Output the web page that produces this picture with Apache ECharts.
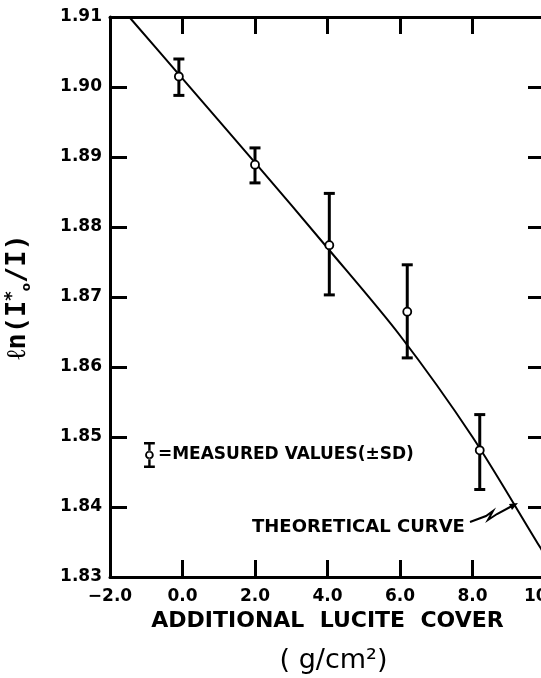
<!DOCTYPE html>
<html lang="en">
<head>
    <meta charset="UTF-8">
    <title>Lucite cover attenuation</title>
    <script src="https://cdn.jsdelivr.net/npm/echarts/dist/echarts.min.js"></script>
    <style>
        html, body {
            margin: 0;
            padding: 0;
            background: #fff;
            overflow: hidden;
        }
        #chart {
            width: 541px;
            height: 678px;
        }
    </style>
</head>
<body>
    <div id="chart"></div>

    <script>
        // measured points (additional lucite cover in g/cm2, ln(I*o/I))
        const coverValues = [-0.1, 2.0, 4.05, 6.2, 8.2];
        const measuredLn = [1.9015, 1.8889, 1.8774, 1.8679, 1.8481];
        const sdLow = [1.8988, 1.8863, 1.8703, 1.8613, 1.8425];
        const sdHigh = [1.9040, 1.8913, 1.8848, 1.8746, 1.8532];

        // theoretical curve
        const curveCover = [-1.47, 0, 2, 4, 6, 8, 9.8, 10];
        const curveLn = [1.9100, 1.9012, 1.8892, 1.8770, 1.8645, 1.8500, 1.8348, 1.8331];

        const xTicks = [-2, 0, 2, 4, 6, 8, 10];
        const yTicks = [1.83, 1.84, 1.85, 1.86, 1.87, 1.88, 1.89, 1.90, 1.91];

        const chart = echarts.init(document.getElementById('chart'));

        const tickFont = { fontFamily: 'DejaVu Sans', fontWeight: 'bold', fontSize: 17, color: '#000' };
        const axisLine = { show: true, onZero: false, lineStyle: { color: '#000', width: 3 } };
        const axisTick = { show: true, inside: true, length: 17, lineStyle: { color: '#000', width: 3 } };

        function xAxisDef(pos, withLabels) {
            return {
                type: 'value',
                position: pos,
                min: xTicks[0],
                max: xTicks[xTicks.length - 1],
                interval: 2,
                axisLine: axisLine,
                axisTick: axisTick,
                splitLine: { show: false },
                axisLabel: withLabels ? Object.assign({
                    margin: 11,
                    formatter: v => (v < 0 ? '\u2212' + Math.abs(v).toFixed(1) : v.toFixed(1))
                }, tickFont) : { show: false }
            };
        }

        function yAxisDef(pos, withLabels) {
            return {
                type: 'value',
                position: pos,
                min: yTicks[0],
                max: yTicks[yTicks.length - 1],
                interval: 0.01,
                axisLine: axisLine,
                axisTick: axisTick,
                splitLine: { show: false },
                axisLabel: withLabels ? Object.assign({
                    margin: 8,
                    formatter: v => v.toFixed(2)
                }, tickFont) : { show: false }
            };
        }

        const xBottom = xAxisDef('bottom', true);
        xBottom.name = '{a|ADDITIONAL  LUCITE  COVER}\n{b|( g/cm\u00b2)}';
        xBottom.nameLocation = 'middle';
        xBottom.nameGap = 26;
        xBottom.nameTextStyle = {
            rich: {
                a: { fontFamily: 'DejaVu Sans', fontWeight: 'bold', fontSize: 22, lineHeight: 30, color: '#000' },
                b: { fontFamily: 'DejaVu Sans', fontSize: 27, lineHeight: 50, color: '#000', padding: [0, 0, 0, 12] }
            }
        };

        const yLeft = yAxisDef('left', true);
        yLeft.name = '{t|\u2113n(I}{s|*}{o|o}{t|/I)}';
        yLeft.nameLocation = 'middle';
        yLeft.nameRotate = 90;
        yLeft.nameGap = 77;
        yLeft.nameTextStyle = {
            rich: {
                t: { fontFamily: 'DejaVu Sans Mono', fontWeight: 'bold', fontSize: 27, color: '#000', lineHeight: 30 },
                s: { fontFamily: 'DejaVu Sans', fontWeight: 'bold', fontSize: 18, color: '#000', verticalAlign: 'top' },
                o: { fontFamily: 'DejaVu Sans', fontWeight: 'bold', fontSize: 12, color: '#000', verticalAlign: 'bottom' }
            }
        };

        const errorData = coverValues.map((x, i) => [x, sdLow[i], sdHigh[i]]);
        const pointData = coverValues.map((x, i) => [x, measuredLn[i]]);
        const curveData = curveCover.map((x, i) => [x, curveLn[i]]);

        // I-beam with open circle, used as the legend key
        const errIcon = 'path://M0 0H10V2.4H0Z M3.9 2H6.1V8.6H3.9Z ' +
            'M9 12A4 4 0 1 0 1 12A4 4 0 1 0 9 12Z M7.3 12A2.3 2.3 0 1 1 2.7 12A2.3 2.3 0 1 1 7.3 12Z ' +
            'M3.9 15.4H6.1V22H3.9Z M0 21.6H10V24H0Z';

        const option = {
            backgroundColor: '#fff',
            animation: false,
            // plot frame runs a little past the right edge of the page, as in the scan
            grid: { left: 110, top: 17, width: 435, height: 560, containLabel: false, outerBoundsMode: 'none' },
            xAxis: [xBottom, xAxisDef('top', false)],
            yAxis: [yLeft, yAxisDef('right', false)],
            legend: {
                left: 139,
                top: 437,
                itemWidth: 11,
                itemHeight: 26,
                data: [{ name: 'measured', icon: errIcon, itemStyle: { color: '#000', borderWidth: 0 } }],
                formatter: () => '=MEASURED VALUES(\u00b1SD)',
                textStyle: { fontFamily: 'DejaVu Sans', fontWeight: 'bold', fontSize: 17, color: '#000', padding: [0, 0, 0, -2] },
                selectedMode: false
            },
            series: [
                {
                    name: 'theoretical',
                    type: 'line',
                    data: curveData,
                    smooth: 0.3,
                    showSymbol: false,
                    lineStyle: { color: '#000', width: 2 },
                    z: 2
                },
                {
                    name: 'sd',
                    type: 'custom',
                    data: errorData,
                    renderItem: function (params, api) {
                        const x = api.value(0);
                        const top = api.coord([x, api.value(2)]);
                        const bot = api.coord([x, api.value(1)]);
                        const cap = 5.5;
                        const st = { stroke: '#000', lineWidth: 3 };
                        return {
                            type: 'group',
                            children: [
                                { type: 'line', shape: { x1: top[0], y1: top[1], x2: bot[0], y2: bot[1] }, style: st },
                                { type: 'line', shape: { x1: top[0] - cap, y1: top[1], x2: top[0] + cap, y2: top[1] }, style: st },
                                { type: 'line', shape: { x1: bot[0] - cap, y1: bot[1], x2: bot[0] + cap, y2: bot[1] }, style: st }
                            ]
                        };
                    },
                    z: 3
                },
                {
                    name: 'measured',
                    type: 'scatter',
                    data: pointData,
                    symbol: 'circle',
                    symbolSize: 8,
                    itemStyle: { color: '#fff', borderColor: '#000', borderWidth: 1.8, opacity: 1 },
                    z: 4
                }
            ],
            graphic: [
                {
                    type: 'text',
                    left: 252,
                    top: 518,
                    style: {
                        text: 'THEORETICAL CURVE',
                        fontFamily: 'DejaVu Sans',
                        fontWeight: 'bold',
                        fontSize: 18,
                        fill: '#000'
                    }
                },
                {
                    type: 'polyline',
                    shape: { points: [[470, 522], [486, 516], [493, 511], [488, 520], [497, 514], [512, 506]] },
                    style: { stroke: '#000', lineWidth: 2, fill: null }
                },
                {
                    type: 'polygon',
                    shape: { points: [[518, 503], [509, 504], [512, 510]] },
                    style: { fill: '#000' }
                }
            ]
        };

        chart.setOption(option);
    </script>
</body>
</html>
